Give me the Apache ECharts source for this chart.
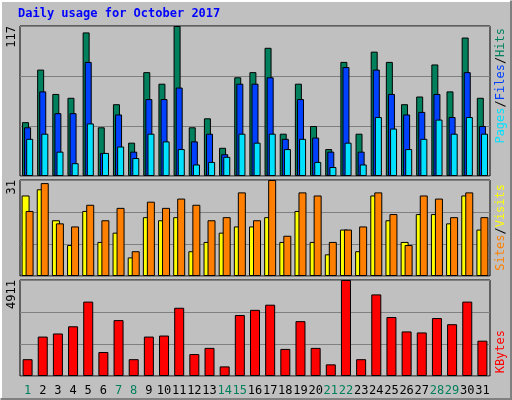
<!DOCTYPE html>
<html><head><meta charset="utf-8">
<script src="https://cdn.jsdelivr.net/npm/echarts@6/dist/echarts.min.js"></script>
<style>html,body{margin:0;padding:0;background:#c0c0c0}#c{width:512px;height:400px}</style>
</head><body><div id="c"></div>
<script>
const days = ['1','2','3','4','5','6','7','8','9','10','11','12','13','14','15','16','17','18','19','20','21','22','23','24','25','26','27','28','29','30','31'];
const weekend = ['1','7','8','14','15','21','22','28','29'];
const hits = [42,83,64,61,112,38,56,26,81,72,117,38,45,22,77,81,100,33,72,39,21,89,33,97,89,56,62,87,66,108,61];
const files = [38,66,49,49,89,18,48,19,60,60,69,27,33,17,72,72,77,29,60,30,19,85,19,83,64,48,50,64,46,81,39];
const pages = [29,33,19,10,41,18,23,14,33,27,21,9,11,15,33,26,33,21,29,11,7,26,9,46,37,21,29,44,33,46,33];
const visits = [26,28,18,10,21,11,14,6,19,18,19,8,11,14,16,16,19,11,21,11,7,15,8,26,18,11,20,20,17,26,15];
const sites = [21,30,17,16,23,18,22,8,24,22,25,23,18,19,27,18,31,13,27,26,11,15,16,27,20,10,26,25,19,27,19];
const kbytes = [860,2017,2175,2543,3806,1228,2859,860,2017,2070,3490,1123,1438,491,3122,3385,3648,1386,2806,1438,596,4911,860,4174,3017,2280,2228,2964,2649,3806,1807];
const maxes = [117,31,4911];

const mono = 'DejaVu Sans Mono';
const grids = [{top:26,height:150},{top:180,height:96},{top:280,height:96}].map(g=>({left:20,right:22,top:g.top,height:g.height,show:true,borderColor:'#000',borderWidth:1,backgroundColor:'#c0c0c0'}));
const xAxes = grids.map((g,i)=>({type:'category',gridIndex:i,data:days,axisTick:{show:false},axisLine:{show:false},
  axisLabel:i===2?{show:true,fontFamily:mono,fontSize:12,margin:9,interval:0,
    formatter:v=>weekend.includes(v)?'{w|'+v+'}':'{n|'+v+'}',rich:{w:{color:'#00805c',fontFamily:mono,fontSize:12},n:{color:'#000',fontFamily:mono,fontSize:12}}}:{show:false}}));
const yAxes = maxes.map((m,i)=>({type:'value',gridIndex:i,min:0,max:m,interval:m/3,
  splitLine:{show:true,lineStyle:{color:'#808080',width:1}},axisLine:{show:false},axisTick:{show:false},
  axisLabel:{show:false}}));
const bs = c=>({color:c,borderColor:'#000',borderWidth:1});
const series = [
  {type:'bar',xAxisIndex:0,yAxisIndex:0,data:hits,barWidth:7,barGap:'-70%',itemStyle:bs('#00805c'),animation:false},
  {type:'bar',xAxisIndex:0,yAxisIndex:0,data:files,barWidth:7,barGap:'-70%',itemStyle:bs('#0040ff'),animation:false},
  {type:'bar',xAxisIndex:0,yAxisIndex:0,data:pages,barWidth:7,barGap:'-70%',itemStyle:bs('#00e0ff'),animation:false},
  {type:'bar',xAxisIndex:1,yAxisIndex:1,data:visits,barWidth:8,barGap:'-50%',itemStyle:bs('#ffff00'),animation:false},
  {type:'bar',xAxisIndex:1,yAxisIndex:1,data:sites,barWidth:8,barGap:'-50%',itemStyle:bs('#ff8000'),animation:false},
  {type:'bar',xAxisIndex:2,yAxisIndex:2,data:kbytes,barWidth:10,itemStyle:bs('#ff0000'),animation:false}
];
const vt = (x,y,rich,text)=>({type:'text',x:x,y:y,rotation:Math.PI/2,style:{text:text,rich:rich,font:'12px '+mono,align:'right',verticalAlign:'middle'}});
const graphic = [
  {type:'polyline',shape:{points:[[1,398],[1,1],[510,1]]},style:{stroke:'#fff',lineWidth:2,fill:null}},
  {type:'polyline',shape:{points:[[1,399],[511,399],[511,1]]},style:{stroke:'#808080',lineWidth:2,fill:null}},
  {type:'text',x:18,y:8,style:{text:'Daily usage for October 2017',font:'bold 12px '+mono,fill:'#0000ff'}},
  {type:'text',x:12,y:26,rotation:Math.PI/2,style:{text:String(maxes[0]),font:'12px '+mono,fill:'#000',align:'right',verticalAlign:'middle'}},
  {type:'text',x:12,y:180,rotation:Math.PI/2,style:{text:String(maxes[1]),font:'12px '+mono,fill:'#000',align:'right',verticalAlign:'middle'}},
  {type:'text',x:12,y:280,rotation:Math.PI/2,style:{text:String(maxes[2]),font:'12px '+mono,fill:'#000',align:'right',verticalAlign:'middle'}},
  vt(501,28,{p:{fill:'#00e0ff',font:'12px '+mono},f:{fill:'#0040ff',font:'12px '+mono},h:{fill:'#00805c',font:'12px '+mono},s:{fill:'#000',font:'12px '+mono}},'{p|Pages}{s|/}{f|Files}{s|/}{h|Hits}'),
  vt(501,184,{a:{fill:'#ff8000',font:'12px '+mono},b:{fill:'#ffff00',font:'12px '+mono},s:{fill:'#000',font:'12px '+mono}},'{a|Sites}{s|/}{b|Visits}'),
  vt(501,330,{k:{fill:'#ff0000',font:'12px '+mono}},'{k|KBytes}')
];
const chart = echarts.init(document.getElementById('c'));
chart.setOption({backgroundColor:'#c0c0c0',animation:false,grid:grids,xAxis:xAxes,yAxis:yAxes,series:series,graphic:graphic});
</script></body></html>
